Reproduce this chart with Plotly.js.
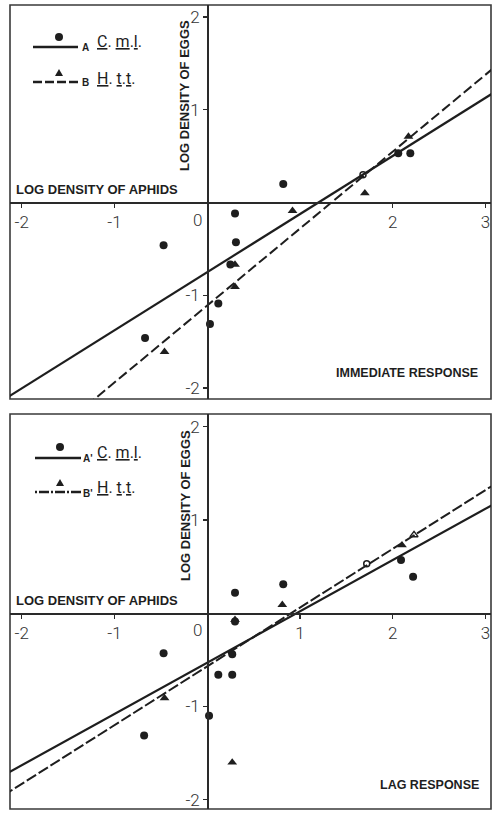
<!DOCTYPE html>
<html><head><meta charset="utf-8">
<script src="https://cdn.plot.ly/plotly-3.0.1.min.js"></script>
<style>html,body{margin:0;padding:0;background:#fff}#chart{width:492px;height:813px}</style>
</head><body><div id="chart"></div>
<script>
// ---------- data ----------
// Immediate response (top panel)
const top_cml_x = [-0.47, 0.30, 0.31, 0.25, 0.82, 0.12, 0.03, -0.67, 2.06, 2.19];
const top_cml_y = [-0.46, -0.12, -0.43, -0.67, 0.20, -1.09, -1.31, -1.46, 0.53, 0.53];
const top_htt_x = [0.30, 0.30, -0.46, 0.92, 1.70, 2.17];
const top_htt_y = [-0.67, -0.91, -1.61, -0.09, 0.10, 0.71];
const top_open_x = [1.68];
const top_open_y = [0.30];
const top_lineA_x = [-2.2, 3.1];
const top_lineA_y = [-2.13, 1.19];
const top_lineB_x = [-1.3, 3.1];
const top_lineB_y = [-2.19, 1.46];

// Lag response (bottom panel)
const bot_cml_x = [0.30, 0.82, 0.30, -0.47, 0.27, 0.12, 0.27, 0.02, -0.68, 2.09, 2.22];
const bot_cml_y = [0.22, 0.31, -0.09, -0.43, -0.44, -0.66, -0.66, -1.10, -1.31, 0.57, 0.39];
const bot_htt_x = [0.81, 0.30, -0.46, 0.27, 2.10];
const bot_htt_y = [0.09, -0.07, -0.91, -1.60, 0.73];
const bot_open_circ_x = [1.72];
const bot_open_circ_y = [0.53];
const bot_open_tri_x = [2.23];
const bot_open_tri_y = [0.84];
const bot_lineA_x = [-2.2, 3.1];
const bot_lineA_y = [-1.74, 1.175];
const bot_lineB_x = [-2.2, 3.1];
const bot_lineB_y = [-1.956, 1.383];

const x_tickvals_top = [-2, -1, 2, 3];
const x_tickvals_bot = [-2, -1, 1, 2, 3];
const y_tickvals = [-2, -1, 1, 2];

const xTitle = 'LOG DENSITY OF APHIDS';
const yTitle = 'LOG DENSITY OF EGGS';
const topLabel = 'IMMEDIATE RESPONSE';
const botLabel = 'LAG RESPONSE';
const speciesA = '<u>C</u>. <u>m</u>.<u>l</u>.';
const speciesB = '<u>H</u>. <u>t</u>.<u>t</u>.';

// ---------- layout helpers ----------
const W = 492, H = 813;
const PX = x => x / W;
const PY = y => 1 - y / H;
const INK = '#1e1e1e';

const domX = [PX(10), PX(491)];
const domTop = [PY(399), PY(5)];
const domBot = [PY(809), PY(414)];
const xRange = [-2.126, 3.06];
const yRangeTop = [-2.119, 2.129];
const yRangeBot = [-2.099, 2.136];
const zpos = (r, d) => d[0] + (0 - r[0]) / (r[1] - r[0]) * (d[1] - d[0]);

const tickFont = {family: 'Roboto, Liberation Sans, sans-serif', size: 17, color: '#333', weight: 300};

function xAxis(domainY, rangeY, tv) {
  return {domain: domX, range: xRange, anchor: 'free', position: zpos(rangeY, domainY),
    showline: true, linecolor: '#2a2a2a', linewidth: 1.6, zeroline: false, showgrid: false,
    ticks: 'outside', ticklen: 4, tickwidth: 1.2, tickcolor: '#2a2a2a',
    tickvals: tv, ticktext: tv.map(v => v < 0 ? '-' + Math.abs(v) : String(v)),
    tickfont: tickFont, fixedrange: true};
}
function yAxis(domainY, rangeY) {
  return {domain: domainY, range: rangeY, anchor: 'free', position: zpos(xRange, domX),
    showline: true, linecolor: '#2a2a2a', linewidth: 1.6, zeroline: false, showgrid: false,
    ticks: 'outside', ticklen: 4, tickwidth: 1.2, tickcolor: '#2a2a2a',
    tickvals: y_tickvals, ticktext: y_tickvals.map(v => v < 0 ? '-' + Math.abs(v) : String(v)),
    tickfont: tickFont, fixedrange: true};
}

function panel(xa, ya, cx, cy, hx, hy, lAx, lAy, lBx, lBy, dashB) {
  return [
    {x: lAx, y: lAy, xaxis: xa, yaxis: ya, mode: 'lines', line: {color: INK, width: 2.2}, hoverinfo: 'skip'},
    {x: lBx, y: lBy, xaxis: xa, yaxis: ya, mode: 'lines', line: {color: INK, width: 2, dash: dashB}, hoverinfo: 'skip'},
    {x: cx, y: cy, xaxis: xa, yaxis: ya, mode: 'markers', marker: {symbol: 'circle', size: 8, color: INK}},
    {x: hx, y: hy, xaxis: xa, yaxis: ya, mode: 'markers', marker: {symbol: 'triangle-up', size: 8.5, color: INK}}
  ];
}

const data = [
  ...panel('x', 'y', top_cml_x, top_cml_y, top_htt_x, top_htt_y, top_lineA_x, top_lineA_y, top_lineB_x, top_lineB_y, '10px,4px'),
  {x: top_open_x, y: top_open_y, xaxis: 'x', yaxis: 'y', mode: 'markers', marker: {symbol: 'circle-open', size: 6, color: INK, line: {width: 1.5}}},
  ...panel('x2', 'y2', bot_cml_x, bot_cml_y, bot_htt_x, bot_htt_y, bot_lineA_x, bot_lineA_y, bot_lineB_x, bot_lineB_y, '11px,3px'),
  {x: bot_open_circ_x, y: bot_open_circ_y, xaxis: 'x2', yaxis: 'y2', mode: 'markers', marker: {symbol: 'circle-open', size: 6, color: INK, line: {width: 1.5}}},
  {x: bot_open_tri_x, y: bot_open_tri_y, xaxis: 'x2', yaxis: 'y2', mode: 'markers', marker: {symbol: 'triangle-up-open', size: 7, color: INK, line: {width: 1.5}}}
];

// ---------- frames and legend keys ----------
const shapes = [];
[['x', 'y'], ['x2', 'y2']].forEach(([xa, ya]) => {
  shapes.push({type: 'rect', xref: xa + ' domain', yref: ya + ' domain', x0: 0, x1: 1, y0: 0, y1: 1,
    line: {color: '#3a3a3a', width: 1.6}, layer: 'below'});
});
function keyLine(x0, x1, y, dash) {
  shapes.push({type: 'line', xref: 'paper', yref: 'paper', x0: PX(x0), x1: PX(x1), y0: PY(y), y1: PY(y),
    line: {color: INK, width: 2.6, dash: dash}});
}
function keyDot(cx, cy) {
  shapes.push({type: 'circle', xref: 'paper', yref: 'paper', x0: PX(cx - 4), x1: PX(cx + 4), y0: PY(cy + 4), y1: PY(cy - 4),
    fillcolor: INK, line: {color: INK, width: 0}});
}
function keyTri(cx, cy) {
  shapes.push({type: 'path', xref: 'paper', yref: 'paper',
    path: `M ${PX(cx - 4)},${PY(cy + 3)} L ${PX(cx + 4)},${PY(cy + 3)} L ${PX(cx)},${PY(cy - 4)} Z`,
    fillcolor: INK, line: {color: INK, width: 0}});
}
keyLine(33, 78, 47, 'solid'); keyDot(59, 37);
keyLine(33, 78, 82, '9px,3px'); keyTri(59, 73);
keyLine(35, 81, 458, 'solid'); keyDot(60, 447);
keyLine(35, 81, 492, '2px,2px,10px,2px'); keyTri(60, 483);

// ---------- text ----------
const bold = {family: 'Liberation Sans, Arial, sans-serif', size: 13, color: INK, weight: 'bold'};
const ann = [];
function txt(text, x, y, opts) {
  ann.push(Object.assign({text: text, xref: 'paper', yref: 'paper', x: PX(x), y: PY(y),
    showarrow: false, xanchor: 'left', yanchor: 'middle', font: bold}, opts || {}));
}
// top panel
txt(xTitle, 14, 190);
txt(yTitle, 185, 96, {textangle: -90, xanchor: 'center'});
txt(topLabel, 334, 373, {font: Object.assign({}, bold, {size: 12.5})});
// bottom panel
txt(xTitle, 14, 600);
txt(yTitle, 185, 506, {textangle: -90, xanchor: 'center'});
txt(botLabel, 378, 785, {font: Object.assign({}, bold, {size: 12.5})});
// legend letters / labels
const small = {family: 'Liberation Sans, Arial, sans-serif', size: 10, color: INK, weight: 'bold'};
const spec = {family: 'Roboto, Liberation Sans, sans-serif', size: 16, color: INK, weight: 400};
txt('A', 80, 48, {font: small});
txt(speciesA, 95, 42, {font: spec});
txt('B', 80, 83, {font: small});
txt(speciesB, 95, 78, {font: spec});
txt("A'", 81, 458, {font: small});
txt(speciesA, 95, 452, {font: spec});
txt("B'", 81, 493, {font: small});
txt(speciesB, 95, 487, {font: spec});
// the "0" labels sit left of the vertical axis
ann.push({text: '0', xref: 'x', yref: 'y', x: 0, y: 0, xshift: -10, yshift: -18, showarrow: false, font: tickFont});
ann.push({text: '0', xref: 'x2', yref: 'y2', x: 0, y: 0, xshift: -10, yshift: -17, showarrow: false, font: tickFont});

const layout = {
  width: W, height: H, margin: {l: 0, r: 0, t: 0, b: 0},
  paper_bgcolor: '#fff', plot_bgcolor: '#fff', showlegend: false,
  xaxis: xAxis(domTop, yRangeTop, x_tickvals_top),
  yaxis: yAxis(domTop, yRangeTop),
  xaxis2: xAxis(domBot, yRangeBot, x_tickvals_bot),
  yaxis2: yAxis(domBot, yRangeBot),
  shapes: shapes, annotations: ann
};

Plotly.newPlot('chart', data, layout, {staticPlot: true, displayModeBar: false});
</script></body></html>
